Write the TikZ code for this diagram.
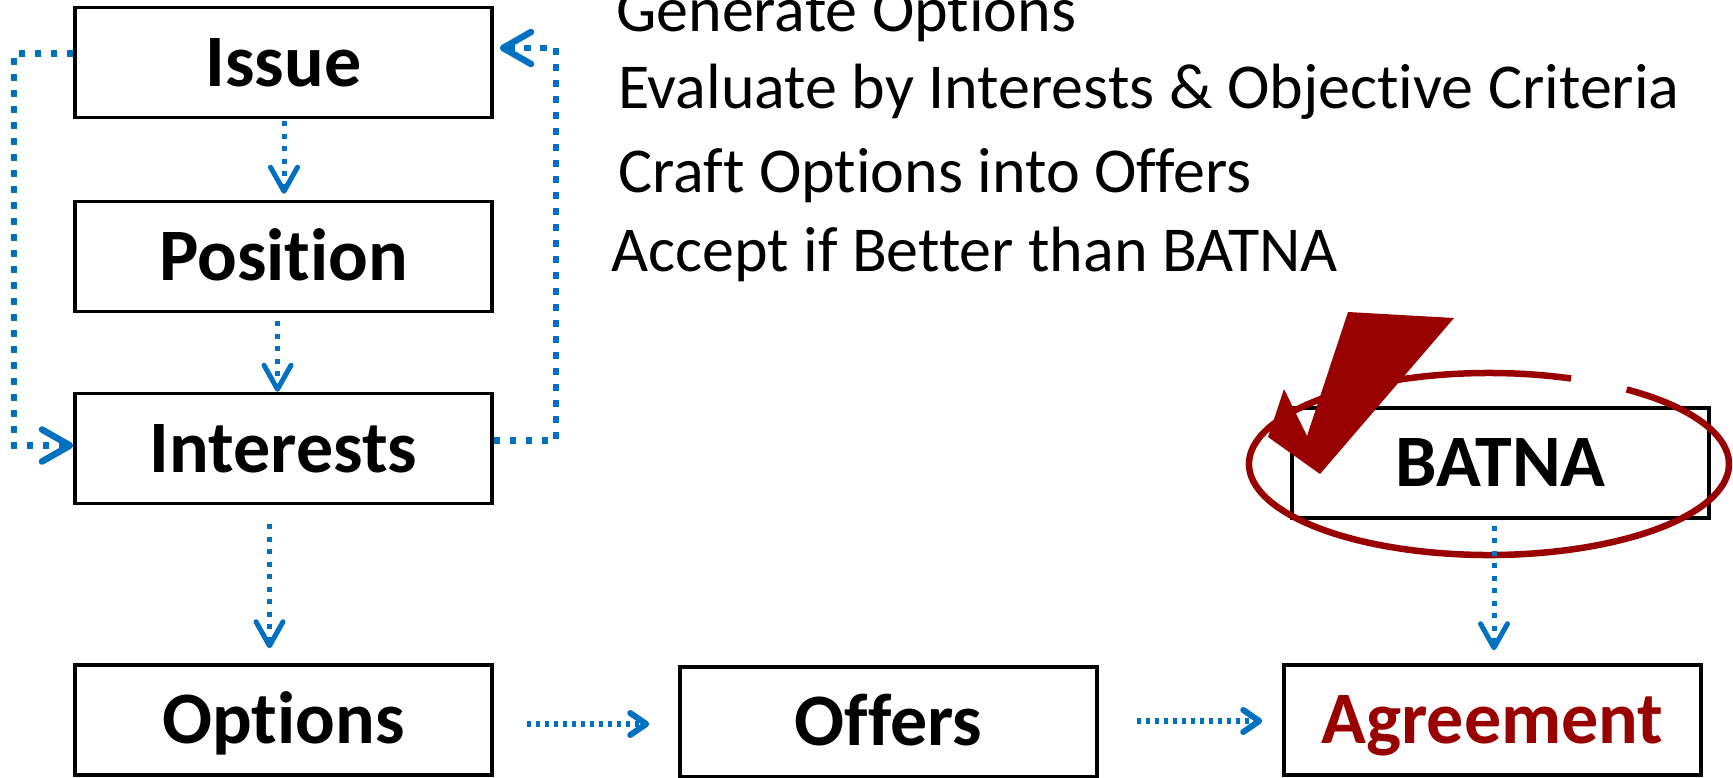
\documentclass[tikz,border=0pt]{standalone}
\usepackage{fontspec}
\setmainfont{Carlito}[Ligatures={NoCommon}]
\usetikzlibrary{arrows.meta,calc}
\definecolor{oblue}{HTML}{0070C0}
\definecolor{dred}{HTML}{990000}
\begin{document}
\begin{tikzpicture}[x=1pt,y=-1pt,
  box/.style={draw=black, line width=3.5pt, fill=white, minimum width=417pt, minimum height=110pt,
    inner sep=0pt, text height=47.7pt, text depth=0pt, font=\fontsize{74}{80}\selectfont\bfseries},
  body/.style={anchor=base west, inner sep=0pt, font=\fontsize{64}{70}\selectfont},
  loopconn/.style={draw=oblue, line width=6.5pt, dash pattern=on 6.5pt off 9.5pt,
    -{Straight Barb[length=28pt,width=32pt,round]}},
  conn/.style={draw=oblue, line width=5pt, dash pattern=on 5pt off 7.5pt,
    -{Straight Barb[length=24pt,width=27pt,round]}},
  hconn/.style={draw=oblue, line width=6pt, dash pattern=on 4pt off 5pt,
    -{Straight Barb[length=16pt,width=22pt,round]}},
  ring/.style={draw=dred, line width=6.5pt},
]
\useasboundingbox (0,0) rectangle (1733,777);
\fill[white] (0,0) rectangle (1733,777);

% boxes
\node[box] (issue) at (283.5,62.5) {Issue};
\node[box] (position) at (283.5,256.5) {Position};
\node[box] (interests) at (283.5,448.5) {Interests};
\node[box] (options) at (283.5,720) {Options};
\node[box] (offers) at (888.5,722) {Offers};
\node[box, text=dred] (agreement) at (1492.5,720) {Agreement};
\node[box] (batna) at (1500.5,463) {BATNA};

% text lines
\node[body] (t1) at (616,31) {Generate Options};
\node[body] (t2) at (618,108) {Evaluate by Interests \& Objective Criteria};
\node[body] (t3) at (618,192) {Craft Options into Offers};
\node[body] (t4) at (611,271) {Accept if Better than BATNA};

% red ring and bolt
\coordinate (ellc) at (1489,464);
\draw[ring] (ellc) ++(70:240pt and 91pt) arc[start angle=70, end angle=415, x radius=240pt, y radius=91pt];
\fill[dred] (1348,312) -- (1454,318) -- (1320,474) -- (1268,437) -- (1284,389) -- (1307,436) -- cycle;

% connectors
\draw[loopconn] ($(issue.west)+(0,-9)$) -- (14,53.5) |- ($(interests.west)+(0,-3)$);
\draw[loopconn] ($(interests.east)+(0,-8)$) -| (556,48) -- ($(issue.east)+(6,-14.5)$);
\draw[conn] ($(issue.south)+(0.5,2)$) -- ($(position.north)+(0.5,-6)$);
\draw[conn] ($(position.south)+(-6,8)$) -- ($(interests.north)+(-6,0)$);
\draw[conn] ($(interests.south)+(-14,19)$) -- ($(options.north)+(-14,-15)$);
\draw[conn] ($(batna.south)+(-6.5,6)$) -- ($(agreement.north)+(1.5,-13)$);
\draw[hconn] ($(options.east)+(33,4)$) -- ($(offers.west)+(-29,2)$);
\draw[hconn] ($(offers.east)+(38,-1)$) -- ($(agreement.west)+(-20,1)$);
\end{tikzpicture}
\end{document}
